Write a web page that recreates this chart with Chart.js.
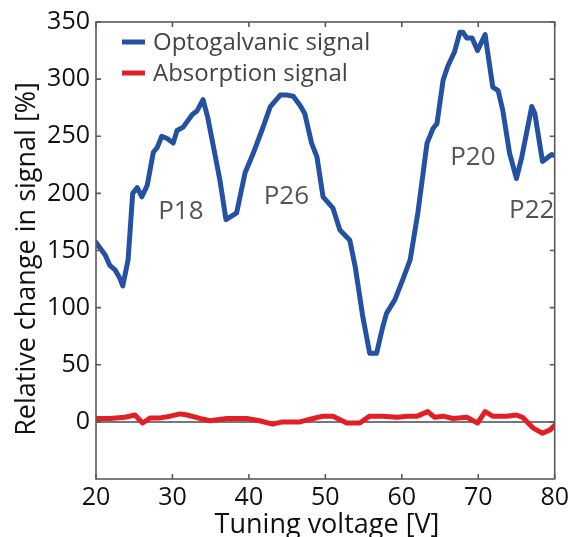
<!DOCTYPE html>
<html>
<head>
<meta charset="utf-8">
<script src="https://cdn.jsdelivr.net/npm/chart.js@4/dist/chart.umd.min.js"></script>
<style>
  html, body { margin: 0; padding: 0; background: #ffffff; }
  #wrap { width: 573px; height: 537px; position: relative; }
</style>
</head>
<body>
<div id="wrap"><canvas id="chart" width="573" height="537"></canvas></div>
<script>
// Optogalvanic signal vs tuning voltage
const optoVoltage = [20.0, 21.2, 21.8, 22.5, 23.1, 23.5, 24.2, 24.8, 25.4, 26.0, 26.7, 27.5, 28.0, 28.6, 29.3, 30.1, 30.6, 31.4, 32.6, 33.2, 34.0, 34.6, 36.2, 37.0, 38.4, 39.5, 40.5, 41.8, 42.8, 44.1, 45.0, 45.8, 46.7, 47.3, 48.2, 48.9, 49.7, 51.0, 51.9, 53.2, 53.9, 54.9, 55.8, 56.7, 57.5, 58.0, 59.1, 60.1, 61.1, 62.1, 63.3, 64.1, 64.6, 65.4, 66.0, 66.9, 67.6, 68.0, 68.5, 69.2, 69.9, 70.9, 71.2, 71.9, 72.6, 73.2, 74.1, 75.0, 75.7, 77.0, 77.4, 78.4, 79.0, 79.6, 80.0];
const optoSignal = [157, 146, 137, 133, 126, 119, 142, 200, 205, 197, 207, 236, 240, 250, 248, 244, 255, 258, 269, 272, 282, 267, 212, 177, 183, 218, 234, 257, 276, 286, 286, 285, 277, 270, 244, 232, 197, 187, 168, 159, 136, 92, 60, 60, 83, 95, 107, 124, 142, 183, 244, 257, 261, 299, 311, 324, 341, 341, 336, 336, 325, 339, 325, 293, 290, 273, 235, 213, 232, 276, 270, 228, 231, 234, 233];

// Absorption signal vs tuning voltage
const absVoltage = [20.0, 21.8, 23.8, 25.1, 26.1, 27.1, 28.4, 29.7, 31.0, 31.9, 33.6, 34.9, 37.1, 39.7, 41.4, 43.1, 44.4, 46.7, 48.4, 49.7, 51.0, 52.8, 54.5, 55.8, 57.5, 59.4, 60.7, 62.0, 63.4, 64.3, 65.4, 66.7, 68.5, 69.9, 70.9, 71.9, 73.7, 75.0, 75.8, 77.1, 78.4, 79.4, 80.0];
const absSignal = [3, 3, 4, 6, -1, 3.5, 3.5, 5, 7, 6, 3, 1, 3, 3, 1, -2, 0, 0, 3, 5, 5, -1, -1, 5, 5, 4, 5, 5, 9, 4, 5, 3, 4, -1, 9, 5, 5, 6, 4, -5, -10, -7, -3];

const xTicks = [20, 30, 40, 50, 60, 70, 80];
const yTicks = [0, 50, 100, 150, 200, 250, 300, 350];

const peakLabels = ['P18', 'P26', 'P20', 'P22'];
const peakVoltage = [31.1, 44.9, 69.3, 77.0];
const peakSignal = [184, 197, 231, 185];

const seriesNames = ['Optogalvanic signal', 'Absorption signal'];
const seriesColors = ['#2451a1', '#e31f26'];

const FONT = '"Open Sans", "Noto Sans", sans-serif';
const FRAME = '#5a5a5a';

const toPoints = (xs, ys) => xs.map((x, i) => ({ x, y: ys[i] }));

// Zero line, box frame with inward ticks on all four sides, labels and legend
const framePlugin = {
  id: 'frame',
  beforeDatasetsDraw(chart) {
    const { ctx, chartArea: a, scales } = chart;
    const y0 = scales.y.getPixelForValue(0);
    ctx.save();
    ctx.strokeStyle = '#4a4a4a';
    ctx.lineWidth = 1.5;
    ctx.beginPath();
    ctx.moveTo(a.left, y0);
    ctx.lineTo(a.right, y0);
    ctx.stroke();
    ctx.restore();
  },
  afterDatasetsDraw(chart) {
    const { ctx, chartArea: a, scales } = chart;
    const tl = 5;
    ctx.save();
    ctx.strokeStyle = FRAME;
    ctx.lineWidth = 1.6;
    ctx.strokeRect(a.left, a.top, a.right - a.left, a.bottom - a.top);
    ctx.beginPath();
    xTicks.forEach(v => {
      const px = scales.x.getPixelForValue(v);
      ctx.moveTo(px, a.bottom); ctx.lineTo(px, a.bottom - tl);
      ctx.moveTo(px, a.top); ctx.lineTo(px, a.top + tl);
    });
    yTicks.forEach(v => {
      const py = scales.y.getPixelForValue(v);
      ctx.moveTo(a.left, py); ctx.lineTo(a.left + tl, py);
      ctx.moveTo(a.right, py); ctx.lineTo(a.right - tl, py);
    });
    ctx.stroke();
    ctx.restore();
  },
  afterDraw(chart) {
    const { ctx, chartArea: a, scales } = chart;
    ctx.save();
    // peak labels
    ctx.fillStyle = '#555555';
    ctx.font = '26px ' + FONT;
    ctx.textAlign = 'center';
    ctx.textBaseline = 'middle';
    peakLabels.forEach((t, i) => {
      ctx.fillText(t, scales.x.getPixelForValue(peakVoltage[i]), scales.y.getPixelForValue(peakSignal[i]));
    });
    // legend
    ctx.font = '24px ' + FONT;
    ctx.textAlign = 'left';
    ctx.fillStyle = '#444444';
    seriesNames.forEach((name, i) => {
      const yy = a.top + 20 + i * 31;
      ctx.strokeStyle = seriesColors[i];
      ctx.lineWidth = 5;
      ctx.beginPath();
      ctx.moveTo(a.left + 26, yy);
      ctx.lineTo(a.left + 49, yy);
      ctx.stroke();
      ctx.fillText(name, a.left + 57, yy + 1);
    });
    // axis titles
    ctx.fillStyle = '#111111';
    ctx.font = '27px ' + FONT;
    ctx.textAlign = 'center';
    ctx.textBaseline = 'alphabetic';
    ctx.fillText('Tuning voltage [V]', 327, 533);
    ctx.translate(35, 259);
    ctx.rotate(-Math.PI / 2);
    ctx.fillText('Relative change in signal [%]', 0, 0);
    ctx.restore();
  }
};

new Chart(document.getElementById('chart'), {
  type: 'line',
  data: {
    datasets: [
      {
        label: seriesNames[0],
        data: toPoints(optoVoltage, optoSignal),
        borderColor: seriesColors[0],
        borderWidth: 5,
        pointRadius: 0,
        tension: 0,
        borderJoinStyle: 'round',
        borderCapStyle: 'round'
      },
      {
        label: seriesNames[1],
        data: toPoints(absVoltage, absSignal),
        borderColor: seriesColors[1],
        borderWidth: 5,
        pointRadius: 0,
        tension: 0,
        borderJoinStyle: 'round',
        borderCapStyle: 'round'
      }
    ]
  },
  options: {
    responsive: false,
    animation: false,
    events: [],
    layout: { padding: { top: 22, right: 18, left: 0, bottom: 0 } },
    plugins: { legend: { display: false }, tooltip: { enabled: false } },
    scales: {
      x: {
        type: 'linear',
        min: 20, max: 80,
        afterBuildTicks: s => { s.ticks = xTicks.map(v => ({ value: v })); },
        afterFit: s => { s.height = 58; },
        grid: { display: false, drawTicks: false },
        border: { display: false },
        ticks: { color: '#111111', font: { family: FONT, size: 25 }, padding: 4, maxRotation: 0 }
      },
      y: {
        type: 'linear',
        min: -50, max: 350,
        afterBuildTicks: s => { s.ticks = yTicks.map(v => ({ value: v })); },
        afterFit: s => { s.width = 96; },
        grid: { display: false, drawTicks: false },
        border: { display: false },
        ticks: { color: '#111111', font: { family: FONT, size: 25 }, padding: 6 }
      }
    }
  },
  plugins: [framePlugin]
});
</script>
</body>
</html>
